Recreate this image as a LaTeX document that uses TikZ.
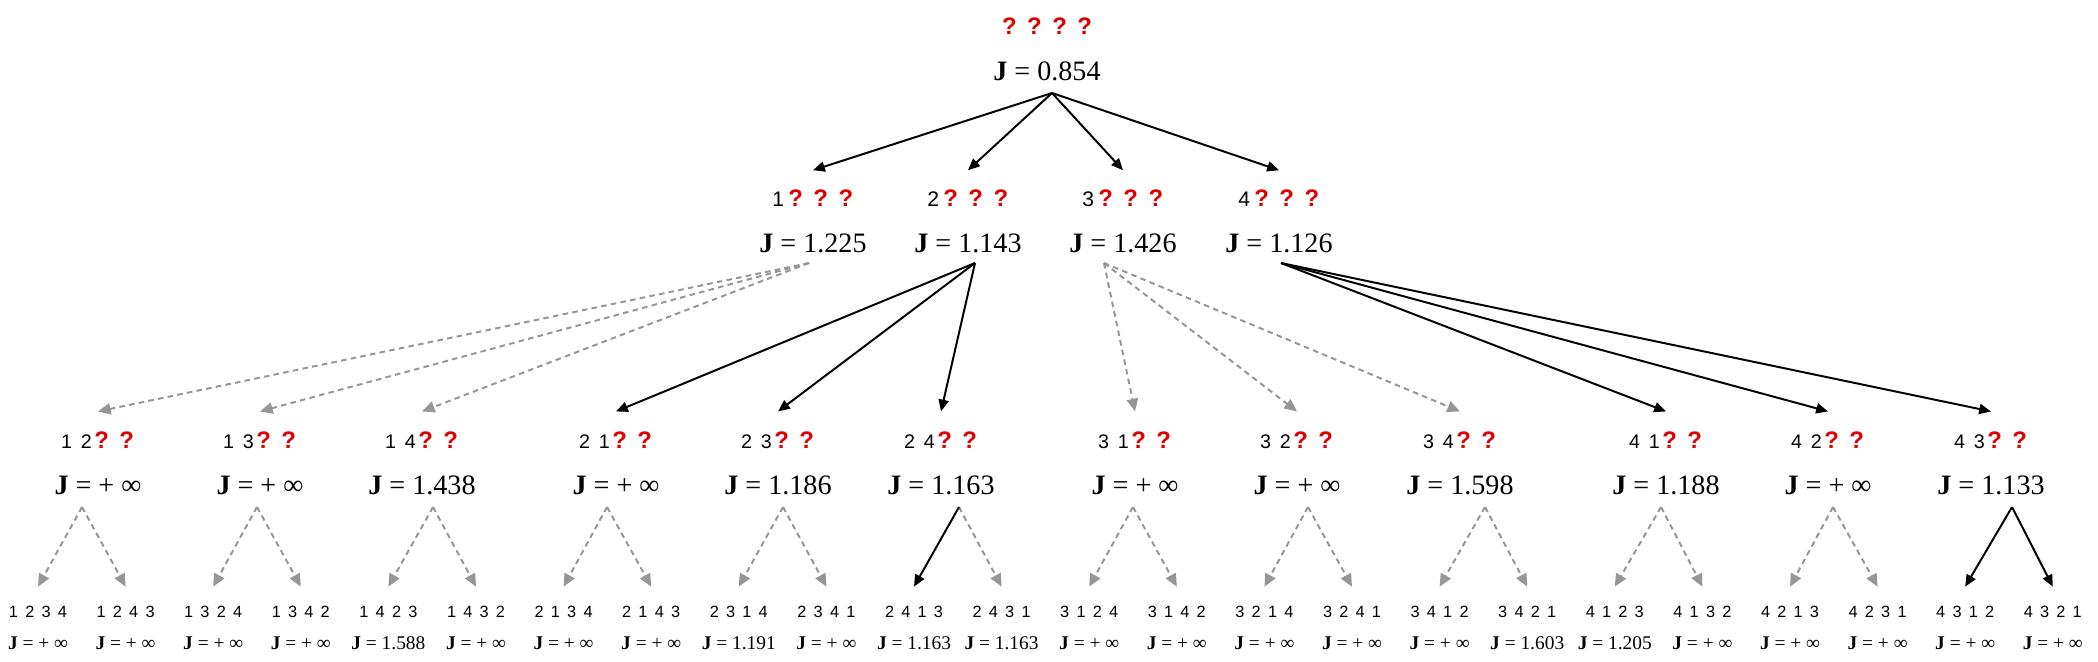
\documentclass[tikz,border=0pt]{standalone}
\usepackage{fontspec}
\setmainfont{Liberation Serif}
\setsansfont{Liberation Sans}
\usetikzlibrary{arrows.meta}
\definecolor{qred}{RGB}{225,0,0}
\definecolor{edgegrey}{RGB}{150,150,150}
\newcommand\dg[1]{\makebox[1em]{#1}}
\newcommand\qm{{\fontsize{8.5}{9}\selectfont\bfseries\color{qred}\makebox[1.05em]{?}}}
\newcommand\fourd[4]{\dg{#1}\dg{#2}\dg{#3}\dg{#4}}
\newcommand\jv[1]{\textbf{J} = #1}
\def\jinf{+ ∞}
\def\yLzero{26}
\def\yJzero{71}
\def\yLone{198}
\def\yJone{243}
\def\yLtwo{440}
\def\yJtwo{485}
\def\yLthree{612}
\def\yJthree{643}

\begin{document}
\begin{tikzpicture}[
    x=0.0125cm, y=-0.0125cm,
    lblone/.style={
      font=\sffamily\fontsize{7.5}{9}\selectfont, inner sep=0pt, minimum height=0.68cm
    },
    lbltwo/.style={
      font=\sffamily\fontsize{7}{8}\selectfont, inner sep=0pt, minimum height=0.7cm
    },
    lblthree/.style={
      font=\sffamily\fontsize{5.8}{6}\selectfont, inner sep=0pt, minimum height=0.62cm
    },
    jbig/.style={font=\fontsize{10}{12}\selectfont, inner sep=0pt},
    jsmall/.style={font=\fontsize{6.9}{7}\selectfont, inner sep=0pt},
    solidarrow/.style={
      draw=black, line width=0.7pt,
      -{Triangle[length=4.2pt,width=3.6pt]}
    },
    dasharrow/.style={
      draw=edgegrey, line width=0.7pt, dash pattern=on 2pt off 1.5pt,
      -{Triangle[length=4.5pt,width=4pt]}
    }
  ]
    \useasboundingbox (0,0) rectangle (2098,661);

    % root
    \node[lblone] (l0) at (1047,\yLzero) {\qm\qm\qm\qm};
    \node[jbig] (j0) at (1047,\yJzero) {\jv{0.854}};
    \coordinate (a0) at (1052,93);

    % first position fixed
    \node[lblone] (l1) at (813,\yLone) {\dg{1}\kern-2pt\qm\qm\qm};
    \node[jbig] (j1) at (813,\yJone) {\jv{1.225}};
    \node[lblone] (l2) at (968,\yLone) {\dg{2}\kern-2pt\qm\qm\qm};
    \node[jbig] (j2) at (968,\yJone) {\jv{1.143}};
    \node[lblone] (l3) at (1123,\yLone) {\dg{3}\kern-2pt\qm\qm\qm};
    \node[jbig] (j3) at (1123,\yJone) {\jv{1.426}};
    \node[lblone] (l4) at (1279,\yLone) {\dg{4}\kern-2pt\qm\qm\qm};
    \node[jbig] (j4) at (1279,\yJone) {\jv{1.126}};

    \coordinate (a1) at (809,263);
    \coordinate (a2) at (975,263);
    \coordinate (a3) at (1104,263);
    \coordinate (a4) at (1281,263);

    % second position fixed
    \node[lbltwo] (l12) at (98,\yLtwo) {\dg{1}\dg{2}\kern-2.5pt\qm\qm};
    \node[jbig] (j12) at (98,\yJtwo) {\jv{\jinf}};
    \node[lbltwo] (l13) at (260,\yLtwo) {\dg{1}\dg{3}\kern-2.5pt\qm\qm};
    \node[jbig] (j13) at (260,\yJtwo) {\jv{\jinf}};
    \node[lbltwo] (l14) at (422,\yLtwo) {\dg{1}\dg{4}\kern-2.5pt\qm\qm};
    \node[jbig] (j14) at (422,\yJtwo) {\jv{1.438}};
    \node[lbltwo] (l21) at (616,\yLtwo) {\dg{2}\dg{1}\kern-2.5pt\qm\qm};
    \node[jbig] (j21) at (616,\yJtwo) {\jv{\jinf}};
    \node[lbltwo] (l23) at (778,\yLtwo) {\dg{2}\dg{3}\kern-2.5pt\qm\qm};
    \node[jbig] (j23) at (778,\yJtwo) {\jv{1.186}};
    \node[lbltwo] (l24) at (941,\yLtwo) {\dg{2}\dg{4}\kern-2.5pt\qm\qm};
    \node[jbig] (j24) at (941,\yJtwo) {\jv{1.163}};
    \node[lbltwo] (l31) at (1135,\yLtwo) {\dg{3}\dg{1}\kern-2.5pt\qm\qm};
    \node[jbig] (j31) at (1135,\yJtwo) {\jv{\jinf}};
    \node[lbltwo] (l32) at (1297,\yLtwo) {\dg{3}\dg{2}\kern-2.5pt\qm\qm};
    \node[jbig] (j32) at (1297,\yJtwo) {\jv{\jinf}};
    \node[lbltwo] (l34) at (1460,\yLtwo) {\dg{3}\dg{4}\kern-2.5pt\qm\qm};
    \node[jbig] (j34) at (1460,\yJtwo) {\jv{1.598}};
    \node[lbltwo] (l41) at (1666,\yLtwo) {\dg{4}\dg{1}\kern-2.5pt\qm\qm};
    \node[jbig] (j41) at (1666,\yJtwo) {\jv{1.188}};
    \node[lbltwo] (l42) at (1828,\yLtwo) {\dg{4}\dg{2}\kern-2.5pt\qm\qm};
    \node[jbig] (j42) at (1828,\yJtwo) {\jv{\jinf}};
    \node[lbltwo] (l43) at (1991,\yLtwo) {\dg{4}\dg{3}\kern-2.5pt\qm\qm};
    \node[jbig] (j43) at (1991,\yJtwo) {\jv{1.133}};

    \coordinate (a12) at (82,507);
    \coordinate (a13) at (257,507);
    \coordinate (a14) at (433,507);
    \coordinate (a21) at (607,507);
    \coordinate (a23) at (783,507);
    \coordinate (a24) at (959,507);
    \coordinate (a31) at (1133,507);
    \coordinate (a32) at (1308,507);
    \coordinate (a34) at (1485,507);
    \coordinate (a41) at (1661,507);
    \coordinate (a42) at (1833,507);
    \coordinate (a43) at (2012,507);

    % complete sequences
    \foreach \lab/\val [count=\i from 0] in {
        1234/\jinf, 1243/\jinf, 1324/\jinf, 1342/\jinf, 1423/1.588, 1432/\jinf,
        2134/\jinf, 2143/\jinf, 2314/1.191, 2341/\jinf, 2413/1.163, 2431/1.163,
        3124/\jinf, 3142/\jinf, 3214/\jinf, 3241/\jinf, 3412/\jinf, 3421/1.603,
        4123/1.205, 4132/\jinf, 4213/\jinf, 4231/\jinf, 4312/\jinf, 4321/\jinf} {
      \node[lblthree] (l\lab) at (38+87.6*\i,\yLthree) {\expandafter\fourd\lab};
      \node[jsmall] (j\lab) at (38+87.6*\i,\yJthree) {\jv{\val}};
    }

    % branches
    \foreach \k in {1,...,4}
      \draw[solidarrow] (a0) -- (l\k.north);

    \foreach \c in {12,13,14}
      \draw[dasharrow] (a1) -- (l\c.north);
    \foreach \c in {21,23,24}
      \draw[solidarrow] (a2) -- (l\c.north);
    \foreach \c in {31,32,34}
      \draw[dasharrow] (a3) -- (l\c.north);
    \foreach \c in {41,42,43}
      \draw[solidarrow] (a4) -- (l\c.north);

    \foreach \p/\c in {12/1234, 12/1243, 13/1324, 13/1342, 14/1423, 14/1432,
        21/2134, 21/2143, 23/2314, 23/2341, 24/2431,
        31/3124, 31/3142, 32/3214, 32/3241, 34/3412, 34/3421,
        41/4123, 41/4132, 42/4213, 42/4231}
      \draw[dasharrow] (a\p) -- (l\c.north);
    \draw[solidarrow] (a24) -- (l2413.north);
    \draw[solidarrow] (a43) -- (l4312.north);
    \draw[solidarrow] (a43) -- (l4321.north);
\end{tikzpicture}
\end{document}
